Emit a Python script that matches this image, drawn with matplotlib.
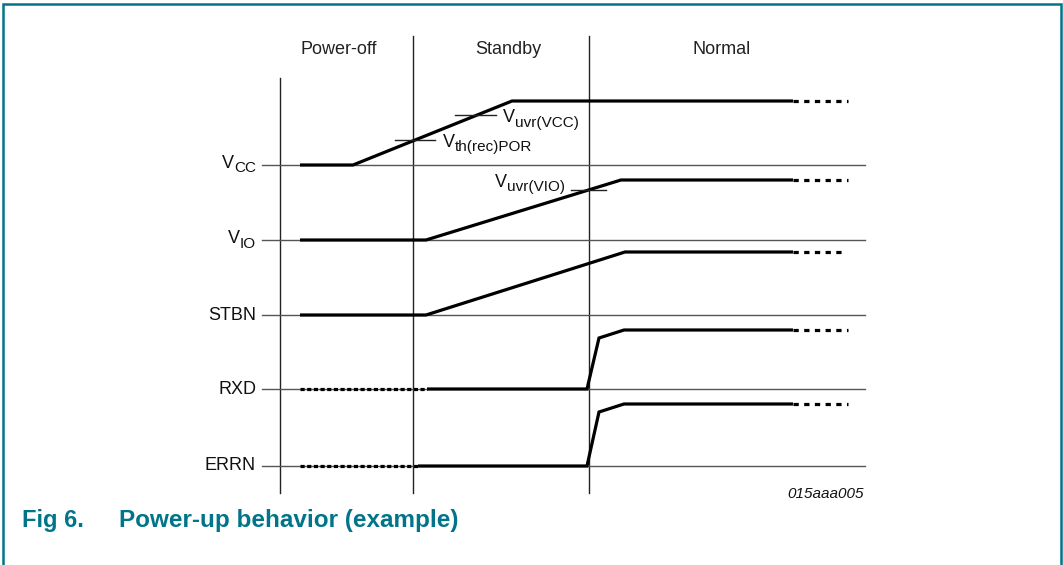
import matplotlib
matplotlib.use("Agg")
import matplotlib.pyplot as plt

plt.rcParams['font.family'] = ['Liberation Sans', 'DejaVu Sans']
plt.rcParams['lines.scale_dashes'] = False

# ---- data (diagram coordinates, pixel-like units) ----
phases = ["Power-off", "Standby", "Normal"]
phase_x = [339, 508, 722]
signal_main = ["V", "V", "STBN", "RXD", "ERRN"]
signal_sub = ["CC", "IO", "", "", ""]
baseline_y = [165, 240, 315, 389, 466]
boundary_x = [280, 413, 589]
boundary_top = [78, 36, 36]

vcc_x = [300, 353, 512, 793]
vcc_y = [165, 165, 101, 101]
vio_x = [300, 426, 621, 793]
vio_y = [240, 240, 180, 180]
stbn_x = [300, 426, 625, 793]
stbn_y = [315, 315, 252, 252]
rxd_x = [427, 587, 599, 624, 793]
rxd_y = [389, 389, 338, 330, 330]
errn_x = [418, 587, 599, 624, 793]
errn_y = [466, 466, 412, 404, 404]
tail_end = [848, 848, 845, 848, 848]
pre_dash_x = [[300, 427], [300, 418]]  # RXD, ERRN undefined region

thr_x = [[395, 435], [455, 496], [571, 606]]
thr_y = [140, 115, 190]
thr_main = ["V", "V", "V"]
thr_sub = ["th(rec)POR", "uvr(VCC)", "uvr(VIO)"]
thr_label_pos = [(443, 147, 'left'), (503, 122, 'left'), (565, 187, 'right')]

fig = plt.figure(figsize=(10.63, 5.65), dpi=100)
ax = fig.add_axes([0, 0, 1, 1])
ax.set_xlim(0, 1063)
ax.set_ylim(565, 0)
ax.axis('off')
renderer = fig.canvas.get_renderer()

MAIN_FS = 13
SUB_FS = 11
SUB_DY = 4.5
TXT = '#111111'


def width_of(t):
    bb = t.get_window_extent(renderer=renderer)
    return bb.width  # pixels == data units here


def sub_label(x, y, main, sub, ha):
    """Draw main text + subscript with baseline at y (data units)."""
    if ha == 'left':
        t = ax.text(x, y, main, ha='left', va='baseline', fontsize=MAIN_FS, color=TXT)
        w = width_of(t)
        if sub:
            ax.text(x + w, y + SUB_DY, sub, ha='left', va='baseline', fontsize=SUB_FS, color=TXT)
    else:
        xs = x
        if sub:
            s = ax.text(x, y + SUB_DY, sub, ha='right', va='baseline', fontsize=SUB_FS, color=TXT)
            xs = x - width_of(s)
        ax.text(xs, y, main, ha='right', va='baseline', fontsize=MAIN_FS, color=TXT)


teal = '#00758a'
ax.plot([3, 3, 1061, 1061], [565, 4, 4, 565], color=teal, lw=1.8, solid_joinstyle='miter')

for bx, bt in zip(boundary_x, boundary_top):
    ax.plot([bx, bx], [bt, 493], color='#222222', lw=1.0)

for p, px in zip(phases, phase_x):
    ax.text(px, 50, p, ha='center', va='center', fontsize=13, color='#222222')

for m, s, by in zip(signal_main, signal_sub, baseline_y):
    ax.plot([262, 865], [by, by], color='#555555', lw=1.0)
    if s:
        sub_label(256, by + 3, m, s, 'right')
    else:
        ax.text(256, by, m, ha='right', va='center', fontsize=MAIN_FS, color=TXT)

lw = 2.3
wave = [(vcc_x, vcc_y), (vio_x, vio_y), (stbn_x, stbn_y), (rxd_x, rxd_y), (errn_x, errn_y)]
for (wx, wy), te in zip(wave, tail_end):
    ax.plot(wx, wy, color='black', lw=lw, solid_joinstyle='miter', solid_capstyle='butt')
    ax.plot([wx[-1], te], [wy[-1], wy[-1]], color='black', lw=lw,
            dashes=(3.8, 3.9), dash_capstyle='butt')

for (x0, x1), by in zip(pre_dash_x, baseline_y[3:]):
    ax.plot([x0, x1], [by, by], color='black', lw=lw, dashes=(3.0, 1.8), dash_capstyle='butt')

for tx, ty in zip(thr_x, thr_y):
    ax.plot(tx, [ty, ty], color='#222222', lw=1.0)
for m, s, (lx, ly, ha) in zip(thr_main, thr_sub, thr_label_pos):
    sub_label(lx, ly, m, s, ha)

ax.text(864, 494, "015aaa005", ha='right', va='center', fontsize=11, style='italic', color=TXT)

ax.text(22, 520, "Fig 6.", ha='left', va='center', fontsize=17, fontweight='bold', color=teal)
ax.text(119, 520, "Power-up behavior (example)", ha='left', va='center', fontsize=17.5,
        fontweight='bold', color=teal)

fig.savefig("out.png", dpi=100)
